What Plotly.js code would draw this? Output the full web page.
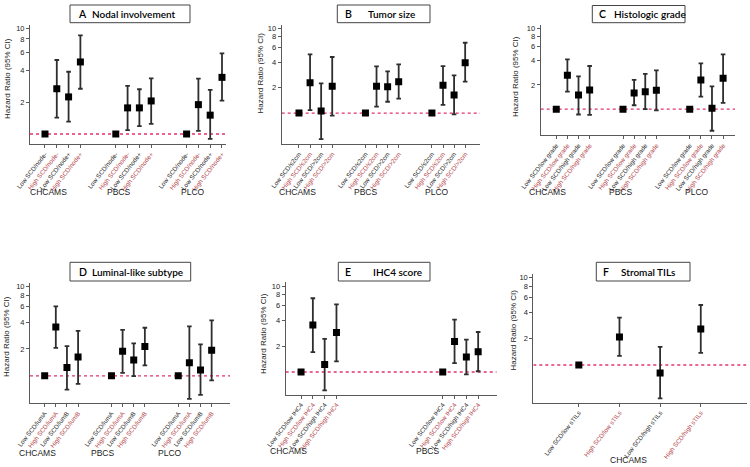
<!DOCTYPE html>
<html><head><meta charset="utf-8">
<script src="https://cdn.plot.ly/plotly-3.0.1.min.js"></script>
<style>html,body{margin:0;padding:0;background:#fff}</style>
</head><body><div id="chart" style="width:750px;height:467px"></div>
<script>
// ---------------- DATA ----------------
// Panel A: Nodal involvement (rows: CHCAMS, PBCS, PLCO)
const cohortsA = ['CHCAMS', 'PBCS', 'PLCO'];
const labelsA = ['Low SCD/node-', 'High SCD/node-', 'Low SCD/node+', 'High SCD/node+'];
const hrA = [[1, 2.69, 2.25, 4.83], [1, 1.77, 1.77, 2.06], [1, 1.90, 1.51, 3.45]];
const loA = [[null, 1.43, 1.31, 2.69], [null, 1.09, 1.19, 1.25], [null, 1.07, 0.90, 2.07]];
const hiA = [[null, 5.04, 3.90, 8.65], [null, 2.86, 2.66, 3.38], [null, 3.35, 2.62, 5.84]];

// Panel B: Tumor size
const cohortsB = ['CHCAMS', 'PBCS', 'PLCO'];
const labelsB = ['Low SCD/≤2cm', 'High SCD/≤2cm', 'Low SCD/>2cm', 'High SCD/>2cm'];
const hrB = [[1, 2.29, 1.06, 2.07], [1, 2.07, 2.05, 2.35], [1, 2.13, 1.63, 3.94]];
const loB = [[null, 1.085, 0.49, 0.93], [null, 1.19, 1.36, 1.48], [null, 1.25, 0.965, 2.35]];
const hiB = [[null, 4.96, 2.25, 4.61], [null, 3.57, 3.12, 3.78], [null, 3.60, 2.80, 6.80]];

// Panel C: Histologic grade
const cohortsC = ['CHCAMS', 'PBCS', 'PLCO'];
const labelsC = ['Low SCD/low grade', 'High SCD/low grade', 'Low SCD/high grade', 'High SCD/high grade'];
const hrC = [[1, 2.64, 1.50, 1.73], [1, 1.59, 1.65, 1.72], [1, 2.31, 1.03, 2.42]];
const loC = [[null, 1.65, 0.86, 0.85], [null, 1.12, 1.00, 0.97], [null, 1.43, 0.54, 1.20]];
const hiC = [[null, 4.17, 2.56, 3.44], [null, 2.31, 2.74, 3.04], [null, 3.72, 1.92, 4.81]];

// Panel D: Luminal-like subtype
const cohortsD = ['CHCAMS', 'PBCS', 'PLCO'];
const labelsD = ['Low SCD/lumA', 'High SCD/lumA', 'Low SCD/lumB', 'High SCD/lumB'];
const hrD = [[1, 3.52, 1.24, 1.62], [1, 1.88, 1.50, 2.13], [1, 1.40, 1.16, 1.94]];
const loD = [[null, 2.06, 0.70, 0.81], [null, 1.08, 0.99, 1.31], [null, 0.55, 0.61, 0.89]];
const hiD = [[null, 6.00, 2.15, 3.20], [null, 3.28, 2.31, 3.46], [null, 3.58, 2.25, 4.18]];

// Panel E: IHC4 score
const cohortsE = ['CHCAMS', 'PBCS'];
const labelsE = ['Low SCD/low IHC4', 'High SCD/low IHC4', 'Low SCD/high IHC4', 'High SCD/high IHC4'];
const hrE = [[1, 3.55, 1.22, 2.89], [1, 2.27, 1.50, 1.73]];
const loE = [[null, 1.71, 0.61, 1.33], [null, 1.27, 0.94, 1.02]];
const hiE = [[null, 7.30, 2.44, 6.20], [null, 4.10, 2.39, 2.94]];

// Panel F: Stromal TILs
const cohortsF = ['CHCAMS'];
const labelsF = ['Low SCD/low sTILs', 'High SCD/low sTILs', 'Low SCD/high sTILs', 'High SCD/high sTILs'];
const hrF = [[1, 2.09, 0.81, 2.59]];
const loF = [[null, 1.27, 0.415, 1.38]];
const hiF = [[null, 3.49, 1.61, 4.87]];

const refHR = 1;
const yTickVals = [2, 4, 6, 8, 10];

// ---------------- LAYOUT CONFIG (pixels) ----------------
const W = 750, H = 467;
const panels = [
  {letter: 'A', title: 'Nodal involvement', cohorts: cohortsA, labels: labelsA, hr: hrA, lo: loA, hi: hiA,
   slots: [0, 1, 2], step: 6, xdom: [30, 226], ydom: [25, 144], xr: [-1.27, 15.34], yr: [-0.095, 1.035],
   groupPx: [48, 118, 193], groupY: 192, ytitleX: 8, ytitleY: 79, box: [70, 190, 5, 22.7], letterX: 76, textX: 90},
  {letter: 'B', title: 'Tumor size', cohorts: cohortsB, labels: labelsB, hr: hrB, lo: loB, hi: hiB,
   slots: [0, 1, 2], step: 6, xdom: [281.7, 480], ydom: [25, 144], xr: [-1.56, 16.34], yr: [-0.367, 1.043],
   groupPx: [297.5, 365, 436.7], groupY: 191.7, ytitleX: 260.5, ytitleY: 73, box: [337.3, 430, 5, 22.7], letterX: 342.5, textX: 366},
  {letter: 'C', title: 'Histologic grade', cohorts: cohortsC, labels: labelsC, hr: hrC, lo: loC, hi: hiC,
   slots: [0, 1, 2], step: 6, xdom: [540.7, 735], ydom: [25, 135.3], xr: [-1.40, 16.07], yr: [-0.324, 1.046],
   groupPx: [547.5, 620, 696.7], groupY: 192.3, ytitleX: 515, ytitleY: 77, box: [592.3, 685, 5.5, 22.7], letterX: 596.5, textX: 612},
  {letter: 'D', title: 'Luminal-like subtype', cohorts: cohortsD, labels: labelsD, hr: hrD, lo: loD, hi: hiD,
   slots: [0, 1, 2], step: 6, xdom: [30, 230], ydom: [282.7, 403.3], xr: [-1.32, 16.65], yr: [-0.309, 1.045],
   groupPx: [37.8, 102, 169.7], groupY: 453.3, ytitleX: 6, ytitleY: 337, box: [70, 190.7, 262.3, 281], letterX: 76.5, textX: 89.5},
  {letter: 'E', title: 'IHC4 score', cohorts: cohortsE, labels: labelsE, hr: hrE, lo: loE, hi: hiE,
   slots: [0, 2], step: 6, xdom: [285.7, 496.7], ydom: [282.3, 394.7], xr: [-1.30, 16.57], yr: [-0.266, 1.050],
   groupPx: [288.7, 427], groupY: 451, ytitleX: 263, ytitleY: 334, box: [338.3, 430, 262.3, 281], letterX: 343, textX: 370.5},
  {letter: 'F', title: 'Stromal TILs', cohorts: cohortsF, labels: labelsF, hr: hrF, lo: loF, hi: hiF,
   slots: [0], step: 4, xdom: [533.3, 746.7], ydom: [273.7, 402.7], xr: [-1.12, 4.13], yr: [-0.432, 1.046],
   groupPx: [628], groupY: 460, ytitleX: 512.5, ytitleY: 330, box: [596.3, 690, 262.3, 281], letterX: 601, textX: 619}
];

const RED_LABEL = '#b3464c';
const DARK_LABEL = '#2a2a2a';
const AXIS_COLOR = '#5a5a5a';
const REF_COLOR = '#e2336a';
const FONT = 'Arial, "Liberation Sans", sans-serif';
const TFONT = 'Lato, "Open Sans", sans-serif';

const px = x => x / W;
const py = y => 1 - y / H;

const traces = [];
const layout = {
  width: W, height: H,
  margin: {l: 0, r: 0, t: 0, b: 0},
  paper_bgcolor: '#fff', plot_bgcolor: 'rgba(0,0,0,0)',
  showlegend: false,
  font: {family: FONT, color: '#222'},
  shapes: [], annotations: []
};

panels.forEach((p, k) => {
  const n = k + 1;
  const xa = 'x' + (n === 1 ? '' : n), ya = 'y' + (n === 1 ? '' : n);
  const xKey = 'xaxis' + (n === 1 ? '' : n), yKey = 'yaxis' + (n === 1 ? '' : n);

  const xs = [], ys = [], plus = [], minus = [], tv = [], tt = [];
  p.cohorts.forEach((c, g) => {
    p.labels.forEach((lab, i) => {
      const xv = p.slots[g] * p.step + i;
      const h = p.hr[g][i], lo = p.lo[g][i], hi = p.hi[g][i];
      xs.push(xv); ys.push(h);
      plus.push(hi == null ? NaN : hi - h);
      minus.push(lo == null ? NaN : h - lo);
      tv.push(xv);
      const col = (i % 2 === 1) ? RED_LABEL : DARK_LABEL;
      tt.push('<span style="color:' + col + '">' + lab + '</span>');
    });
    layout.annotations.push({
      xref: 'paper', yref: 'paper', x: px(p.groupPx[g]), y: py(p.groupY),
      text: c, showarrow: false, xanchor: 'center', yanchor: 'middle',
      font: {size: 8.5, color: '#1a1a1a', family: FONT}
    });
  });

  // reference line at HR = 1
  traces.push({
    type: 'scatter', mode: 'lines', x: [p.xr[0], p.xr[1]], y: [refHR, refHR],
    xaxis: xa, yaxis: ya, line: {color: REF_COLOR, width: 1.3, dash: 'dot'}, hoverinfo: 'skip'
  });

  traces.push({
    type: 'scatter', mode: 'markers', x: xs, y: ys, xaxis: xa, yaxis: ya,
    marker: {symbol: 'square', size: 7, color: '#000'},
    error_y: {type: 'data', symmetric: false, array: plus, arrayminus: minus,
              color: '#2e2e2e', thickness: 1.8, width: 2.3},
    hoverinfo: 'skip'
  });

  layout[xKey] = {
    domain: [px(p.xdom[0]), px(p.xdom[1])], anchor: ya, range: p.xr,
    showgrid: false, zeroline: false, showline: true, linecolor: AXIS_COLOR, linewidth: 1,
    ticks: 'outside', ticklen: 3, tickcolor: AXIS_COLOR, tickwidth: 1,
    tickmode: 'array', tickvals: tv, ticktext: tt, tickangle: -52,
    tickfont: {size: 6.3, color: DARK_LABEL, family: FONT},
    fixedrange: true
  };
  layout[yKey] = {
    domain: [py(p.ydom[1]), py(p.ydom[0])], anchor: xa, type: 'log', range: p.yr,
    showgrid: false, zeroline: false, showline: true, linecolor: AXIS_COLOR, linewidth: 1,
    ticks: 'outside', ticklen: 3, tickcolor: AXIS_COLOR, tickwidth: 1,
    tickmode: 'array', tickvals: yTickVals, ticktext: yTickVals.map(String),
    tickfont: {size: 7.5, color: '#222', family: FONT}, fixedrange: true
  };

  // title box
  layout.shapes.push({
    type: 'rect', xref: 'paper', yref: 'paper',
    x0: px(p.box[0]), x1: px(p.box[1]), y0: py(p.box[3]), y1: py(p.box[2]),
    line: {color: '#444', width: 1}, fillcolor: 'rgba(0,0,0,0)'
  });
  const boxMid = py((p.box[2] + p.box[3]) / 2);
  layout.annotations.push({
    xref: 'paper', yref: 'paper', x: px(p.letterX), y: boxMid, text: p.letter,
    showarrow: false, xanchor: 'left', yanchor: 'middle',
    font: {size: 10.5, color: '#000', family: TFONT, weight: 600}
  });
  layout.annotations.push({
    xref: 'paper', yref: 'paper', x: px(p.textX), y: boxMid, text: p.title,
    showarrow: false, xanchor: 'left', yanchor: 'middle',
    font: {size: 10, color: '#000', family: TFONT, weight: 600}
  });

  // y axis title
  layout.annotations.push({
    xref: 'paper', yref: 'paper', x: px(p.ytitleX), y: py(p.ytitleY),
    text: 'Hazard Ratio (95% CI)', textangle: -90, showarrow: false,
    xanchor: 'center', yanchor: 'middle',
    font: {size: 8, color: '#222', family: FONT}
  });
});

Plotly.newPlot('chart', traces, layout, {staticPlot: true, displayModeBar: false});
</script>
</body></html>
